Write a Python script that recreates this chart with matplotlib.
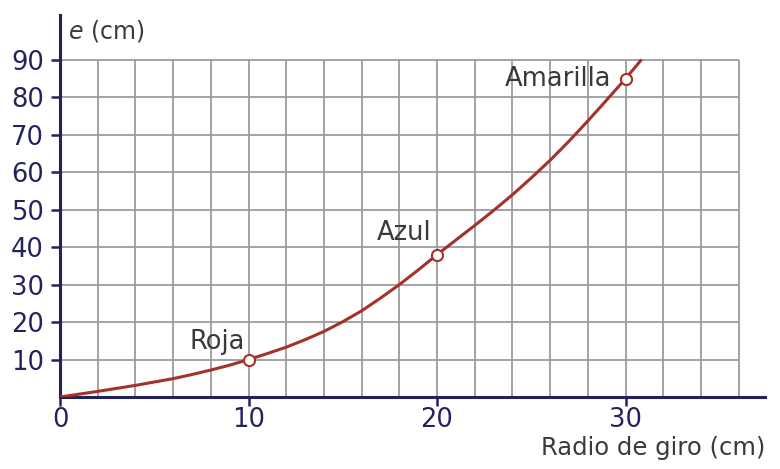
import matplotlib

matplotlib.use("Agg")
import matplotlib.pyplot as plt

# radio de giro (cm) -> e (cm)
radio = [0, 1, 2, 3, 4, 5, 6, 7, 8, 9, 10, 11, 12, 13, 14, 15, 16, 17, 18, 19,
         20, 21, 22, 23, 24, 25, 26, 27, 28, 29, 30, 30.8]
e_cm = [0, 0.75, 1.5, 2.3, 3.1, 4.0, 4.9, 6.0, 7.2, 8.5, 10, 11.6, 13.3, 15.3,
        17.5, 20.1, 23.0, 26.4, 30.0, 33.9, 38.0, 41.9, 45.8, 49.8, 54.0, 58.5,
        63.2, 68.3, 73.7, 79.3, 85.0, 89.8]

bolas = ["Roja", "Azul", "Amarilla"]
bolas_x = [10, 20, 30]
bolas_y = [10, 38, 85]

x_ticks = [0, 10, 20, 30]
y_ticks = [10, 20, 30, 40, 50, 60, 70, 80, 90]

NAVY = "#24225e"
RED = "#a3322b"
GRID = "#9c9c9c"
TXT = "#3a3a3a"

plt.rcParams["font.family"] = ["DejaVu Sans"]
plt.rcParams["mathtext.fontset"] = "dejavusans"

fig = plt.figure(figsize=(7.8, 4.69), dpi=100)
ax = fig.add_axes([60 / 780, 72 / 469, 705 / 780, 382 / 469])
ax.set_xlim(0, 37.4)
ax.set_ylim(0, 102)

# grid only inside 0..36 x 0..90
ax.vlines(range(2, 37, 2), 0, 90, color=GRID, lw=1.3, zorder=1)
ax.hlines(y_ticks, 0, 36, color=GRID, lw=1.3, zorder=1)

ax.plot(radio, e_cm, color=RED, lw=2.2, zorder=3)
ax.plot(bolas_x, bolas_y, "o", ms=8, mfc="white", mec=RED, mew=1.5, zorder=4)

offsets = {"Roja": (-4, 18), "Azul": (-6, 22), "Amarilla": (-14, 0)}
for name, bx, by in zip(bolas, bolas_x, bolas_y):
    ax.annotate(name, (bx, by), xytext=offsets[name], textcoords="offset pixels",
                ha="right", va="center", fontsize=18.5, color=TXT, zorder=5)

for s in ("top", "right"):
    ax.spines[s].set_visible(False)
for s in ("left", "bottom"):
    ax.spines[s].set_color(NAVY)
    ax.spines[s].set_linewidth(2.2)

ax.set_xticks(x_ticks)
ax.set_yticks(y_ticks)
ax.tick_params(axis="both", colors=NAVY, labelsize=18.5, length=6.5, width=1.8,
               direction="out")
ax.tick_params(axis="x", pad=1)
ax.tick_params(axis="y", pad=5)

ax.text(0.4, 97.8, r"$e$ (cm)", ha="left", va="center", fontsize=17,
        color=TXT)
fig.text(765 / 780, 1 - 448 / 469, "Radio de giro (cm)", ha="right",
         va="center", fontsize=17.5, color=TXT)

fig.savefig("out.png", dpi=100)
